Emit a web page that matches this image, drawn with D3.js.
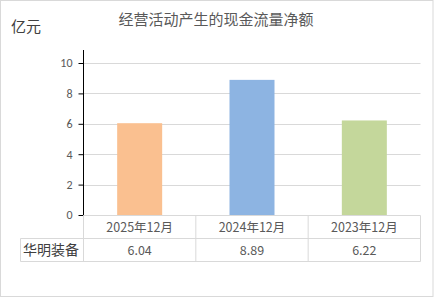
<!DOCTYPE html>
<html><head><meta charset="utf-8">
<script src="https://cdn.jsdelivr.net/npm/d3@7"></script>
<style>body{margin:0;background:#fff}svg{display:block;font-family:"Microsoft YaHei","Noto Sans CJK SC",sans-serif}</style>
</head><body><svg id="c" width="434" height="298"></svg>
<script>
const categories = ["2025年12月", "2024年12月", "2023年12月"];
const values = [6.04, 8.89, 6.22];
const seriesName = "华明装备";
const yTicks = [0, 2, 4, 6, 8, 10];
const colors = ["#FAC090", "#8DB4E2", "#C4D79B"];
const title = "经营活动产生的现金流量净额";
const unit = "亿元";

(function(){
const svg = d3.select("#c");
svg.append("rect").attr("x",0.5).attr("y",0.5).attr("width",432.5).attr("height",296).attr("fill","#fff").attr("stroke","#d9d9d9");

const pl = 83.5, pr = 420.5, pt = 63, pb = 215;
const x = d3.scaleBand().domain(categories).range([pl, pr]).paddingInner(0).paddingOuter(0);
const y = d3.scaleLinear().domain([0,10]).range([pb, pt]);

svg.append("text").attr("x",216).attr("y",25).attr("text-anchor","middle").attr("font-size",15).attr("fill","#595959").text(title);
svg.append("text").attr("x",11).attr("y",32).attr("font-size",15).attr("fill","#404040").text(unit);

svg.append("g").selectAll("line").data(yTicks.filter(d=>d>0)).join("line")
  .attr("x1",pl).attr("x2",pr).attr("y1",d=>Math.round(y(d))+0.5).attr("y2",d=>Math.round(y(d))+0.5)
  .attr("stroke","#d9d9d9");

const bw = 45;
svg.append("g").selectAll("rect").data(values).join("rect")
  .attr("x",(d,i)=>x(categories[i])+x.bandwidth()/2-bw/2)
  .attr("width",bw)
  .attr("y",d=>y(d)).attr("height",d=>y(0)-y(d))
  .attr("fill",(d,i)=>colors[i]);

const ax = svg.append("g").attr("transform",`translate(${pl},0)`)
  .call(d3.axisLeft(y).tickValues(yTicks).tickSize(5).tickPadding(6).tickFormat(d3.format("d")));
ax.select(".domain").attr("stroke","#000").attr("d",`M0,${pt-13}V${pb}`);
ax.selectAll(".tick line").attr("stroke","#000");
ax.selectAll(".tick text").attr("font-size",12).attr("fill","#595959").attr("font-family","Calibri,Carlito,'Liberation Sans',sans-serif");

const tl = 20.5, r1 = 215.5, r2 = 238.5, r3 = 261.5;
const tg = svg.append("g").attr("stroke","#d9d9d9").attr("fill","none");
tg.append("line").attr("x1",pl).attr("x2",pr).attr("y1",r1).attr("y2",r1);
tg.append("line").attr("x1",tl).attr("x2",pr).attr("y1",r2).attr("y2",r2);
tg.append("line").attr("x1",tl).attr("x2",pr).attr("y1",r3).attr("y2",r3);
tg.append("line").attr("x1",tl).attr("x2",tl).attr("y1",r2).attr("y2",r3);
const colX = [pl, ...categories.map(c=>x(c)+x.bandwidth())];
colX.forEach(cx=>tg.append("line").attr("x1",cx).attr("x2",cx).attr("y1",r1).attr("y2",r3));

svg.append("g").selectAll("text").data(categories).join("text")
  .attr("x",d=>x(d)+x.bandwidth()/2).attr("y",232).attr("text-anchor","middle")
  .attr("font-size",12.5).attr("fill","#595959").text(d=>d);
svg.append("g").selectAll("text").data(values).join("text")
  .attr("x",(d,i)=>x(categories[i])+x.bandwidth()/2).attr("y",255).attr("text-anchor","middle")
  .attr("font-size",12.5).attr("fill","#595959").text(d=>d.toFixed(2));
svg.append("text").attr("x",23).attr("y",255).attr("font-size",14).attr("fill","#404040").text(seriesName);
})();
</script></body></html>
